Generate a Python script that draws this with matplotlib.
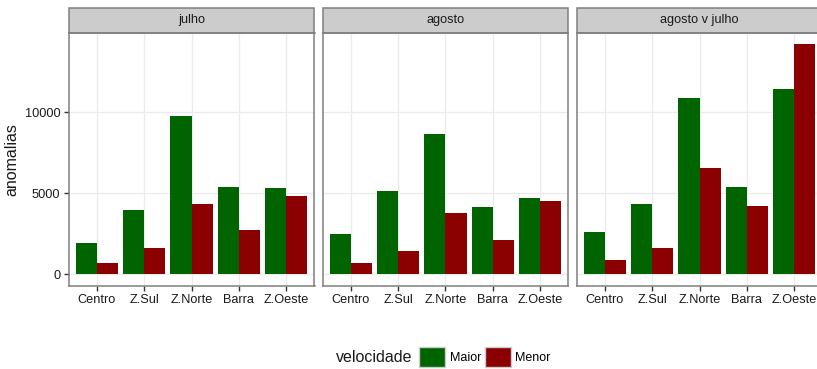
import matplotlib.pyplot as plt
from matplotlib.patches import Rectangle, Patch
import numpy as np

plt.rcParams['font.family'] = ['Liberation Sans', 'DejaVu Sans']

# Anomalias por regiao e velocidade, para cada periodo.
regioes = ["Centro", "Z.Sul", "Z.Norte", "Barra", "Z.Oeste"]
periodos = ["julho", "agosto", "agosto v julho"]
velocidades = ["Maior", "Menor"]
cores = {"Maior": "#006400", "Menor": "#8b0000"}

julho_maior = [1930, 3980, 9770, 5380, 5320]
julho_menor = [700, 1580, 4350, 2690, 4820]
agosto_maior = [2500, 5150, 8660, 4110, 4720]
agosto_menor = [660, 1400, 3740, 2070, 4480]
ambos_maior = [2570, 4350, 10880, 5400, 11440]
ambos_menor = [840, 1580, 6570, 4170, 14170]

dados = {
    "julho": {"Maior": julho_maior, "Menor": julho_menor},
    "agosto": {"Maior": agosto_maior, "Menor": agosto_menor},
    "agosto v julho": {"Maior": ambos_maior, "Menor": ambos_menor},
}

W, H = 817, 369
fig = plt.figure(figsize=(W / 100, H / 100), dpi=100)

# posicoes dos paineis em pixels (o ultimo sai um pouco da figura)
lefts = [68.5, 322.5, 576.5]
pw = 246
top, bottom = 33, 285.5
strip_h = 25

ymax = max(max(v) for d in dados.values() for v in d.values())
x = np.arange(len(regioes))
largura = 0.45

axes = []
for i, per in enumerate(periodos):
    ax = fig.add_axes([lefts[i] / W, 1 - bottom / H, pw / W, (bottom - top) / H])
    axes.append(ax)
    ax.set_axisbelow(True)
    ax.grid(True, color="#ebebeb", linewidth=0.9)
    for j, vel in enumerate(velocidades):
        off = -largura / 2 if j == 0 else largura / 2
        ax.bar(x + off, dados[per][vel], largura, color=cores[vel], linewidth=0)
    ax.set_xlim(-0.6, len(regioes) - 0.4)
    ax.set_ylim(-0.05 * ymax, 1.05 * ymax)
    ax.set_xticks(x, regioes)
    ax.set_yticks([0, 5000, 10000])
    ax.tick_params(axis="both", colors="#333333", labelsize=9.2, length=3.5,
                   width=1.0, pad=2.5, labelcolor="#1a1a1a")
    for sp in ax.spines.values():
        sp.set_color("#7f7f7f")
        sp.set_linewidth(1.1)
    if i > 0:
        ax.tick_params(axis="y", left=False, labelleft=False)

    # faixa do titulo do painel
    sh = strip_h / (bottom - top)
    ax.add_patch(Rectangle((0, 1), 1, sh, transform=ax.transAxes, clip_on=False,
                           facecolor="#cccccc", edgecolor="#7f7f7f", linewidth=1.1))
    ax.text(0.5, 1 + sh / 2, per, transform=ax.transAxes, ha="center", va="center",
            fontsize=9.2, color="#1a1a1a")

axes[0].set_ylabel("anomalias", fontsize=11.5, color="#1a1a1a", labelpad=4)

# legenda
fig.text(412 / W, 1 - 357 / H, "velocidade", ha="right", va="center",
         fontsize=11.5, color="#1a1a1a")
handles = [Patch(facecolor=cores[v], edgecolor="#cccccc", linewidth=1.0) for v in velocidades]
fig.legend(handles, velocidades, loc="center left", bbox_to_anchor=(419 / W, 1 - 357 / H),
           ncol=2, frameon=False, fontsize=9, handlelength=2.1, handleheight=2.0,
           handletextpad=0.35, columnspacing=0.3, borderpad=0, borderaxespad=0)

fig.savefig("out.png", dpi=100)
